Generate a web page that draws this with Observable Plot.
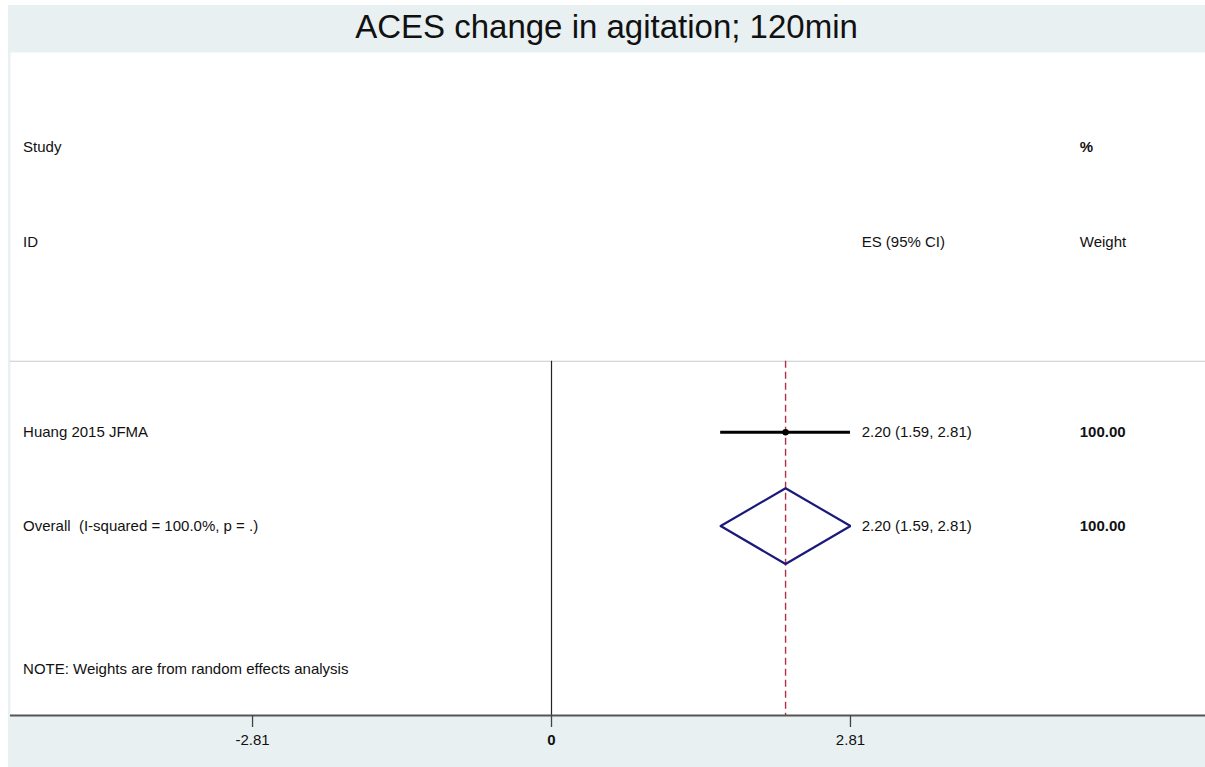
<!DOCTYPE html>
<html>
<head>
<meta charset="utf-8">
<script src="https://cdn.jsdelivr.net/npm/d3@7"></script>
<script src="https://cdn.jsdelivr.net/npm/@observablehq/plot@0.6"></script>
<style>
  html, body { margin: 0; padding: 0; background: #ffffff; }
  #wrap { position: absolute; left: 8px; top: 5px; width: 1197px; background: #e8f0f2; }
  #title { height: 47px; line-height: 43px; text-align: center; font-family: "Liberation Sans", Arial, sans-serif; font-size: 33px; color: #111; white-space: nowrap; }
</style>
</head>
<body>
<div id="wrap">
  <div id="title">ACES change in agitation; 120min</div>
  <div id="chart"></div>
</div>
<script>
// ---- data ----
const studies = ["Huang 2015 JFMA"];
const studyES = [2.20];
const studyLo = [1.59];
const studyHi = [2.81];
const studyWeight = [100.00];

const overallLabel = ["Overall  (I-squared = 100.0%, p = .)"];
const overallES = [2.20];
const overallLo = [1.59];
const overallHi = [2.81];
const overallWeight = [100.00];

const headerLeft = ["Study", "ID"];
const headerES = ["", "ES (95% CI)"];
const headerWeight = ["%", "Weight"];
const noteText = ["NOTE: Weights are from random effects analysis"];
const xTicks = [-2.81, 0, 2.81];

// ---- layout (rows on y scale) ----
const colLeft = -4.967, colES = 2.915, colW = 4.965;
const rowHeader = [0, 1];
const rowSep = 2.26;
const rowStudy0 = 3.01;
const rowOverall = 4;
const rowNote = 5.51;
const rowBottom = 6;
const diamondHalf = 0.4;

const fmtCI = (e, l, h) => `${e.toFixed(2)} (${l.toFixed(2)}, ${h.toFixed(2)})`;

const studyRows = studies.map((s, i) => ({
  label: s, es: studyES[i], lo: studyLo[i], hi: studyHi[i], w: studyWeight[i], row: rowStudy0 + i
}));
const headerRows = rowHeader.map((r, i) => ({row: r, left: headerLeft[i], es: headerES[i], w: headerWeight[i]}));

const oe = overallES[0], ol = overallLo[0], oh = overallHi[0];
const diamond = [
  {x: ol, y: rowOverall}, {x: oe, y: rowOverall - diamondHalf},
  {x: oh, y: rowOverall}, {x: oe, y: rowOverall + diamondHalf},
  {x: ol, y: rowOverall}
];

const font = "'Liberation Sans', Arial, sans-serif";
const txt = "#111";

const plot = Plot.plot({
  width: 1197,
  height: 715,
  marginTop: 0,
  marginBottom: 52,
  marginLeft: 2,
  marginRight: 0,
  style: {background: "#e8f0f2", fontFamily: font, color: txt},
  x: {domain: [-5.085, 6.147], axis: null},
  y: {domain: [-1, rowBottom], reverse: true, axis: null},
  marks: [
    Plot.frame({fill: "white", stroke: "none"}),
    // separator
    Plot.ruleY([rowSep], {stroke: "#c5cbcf", strokeWidth: 1.2}),
    // null line
    Plot.ruleX([0], {y1: rowSep, y2: rowBottom, stroke: "#222", strokeWidth: 1.2}),
    // overall dashed line
    Plot.ruleX(overallES, {y1: rowSep, y2: rowBottom, stroke: "#b0304a", strokeWidth: 1.4, strokeDasharray: "7,4"}),
    // study CI
    Plot.ruleY(studyRows, {y: "row", x1: "lo", x2: "hi", stroke: "#000", strokeWidth: 3}),
    Plot.dot(studyRows, {x: "es", y: "row", r: 3.2, fill: "#000", stroke: "none"}),
    // overall diamond
    Plot.line(diamond, {x: "x", y: "y", stroke: "#1a1a7a", strokeWidth: 2.2, strokeLinejoin: "miter"}),
    // headers
    Plot.text(headerRows, {x: colLeft, y: "row", text: "left", textAnchor: "start", fontSize: 15, fill: txt}),
    Plot.text(headerRows, {x: colES, y: "row", text: "es", textAnchor: "start", fontSize: 15, fill: txt}),
    Plot.text(headerRows.filter(d => d.w === "%"), {x: colW, y: "row", text: "w", textAnchor: "start", fontSize: 15, fontWeight: "bold", fill: txt}),
    Plot.text(headerRows.filter(d => d.w !== "%"), {x: colW, y: "row", text: "w", textAnchor: "start", fontSize: 15, fill: txt}),
    // study rows
    Plot.text(studyRows, {x: colLeft, y: "row", text: "label", textAnchor: "start", fontSize: 15, fill: txt}),
    Plot.text(studyRows, {x: colES, y: "row", text: d => fmtCI(d.es, d.lo, d.hi), textAnchor: "start", fontSize: 15, fill: txt}),
    Plot.text(studyRows, {x: colW, y: "row", text: d => d.w.toFixed(2), textAnchor: "start", fontSize: 15, fontWeight: "bold", fill: txt}),
    // overall row
    Plot.text(overallLabel, {x: colLeft, y: rowOverall, text: d => d, textAnchor: "start", fontSize: 15, fill: txt}),
    Plot.text(overallES, {x: colES, y: rowOverall, text: (d, i) => fmtCI(d, overallLo[i], overallHi[i]), textAnchor: "start", fontSize: 15, fill: txt}),
    Plot.text(overallWeight, {x: colW, y: rowOverall, text: d => d.toFixed(2), textAnchor: "start", fontSize: 15, fontWeight: "bold", fill: txt}),
    // note
    Plot.text(noteText, {x: colLeft, y: rowNote, text: d => d, textAnchor: "start", fontSize: 15, fill: txt}),
    // axis
    Plot.ruleY([rowBottom], {stroke: "#555", strokeWidth: 2}),
    Plot.axisX(xTicks.filter(t => t !== 0), {tickSize: 12, tickPadding: 7, stroke: "#444", strokeWidth: 1.3, fontSize: 15, fill: txt, tickFormat: d => d.toFixed(2)}),
    Plot.axisX(xTicks.filter(t => t === 0), {tickSize: 12, tickPadding: 7, stroke: "#444", strokeWidth: 1.3, fontSize: 15, fill: txt, fontWeight: "bold", tickFormat: d => String(d)})
  ]
});
document.getElementById("chart").appendChild(plot);
</script>
</body>
</html>
